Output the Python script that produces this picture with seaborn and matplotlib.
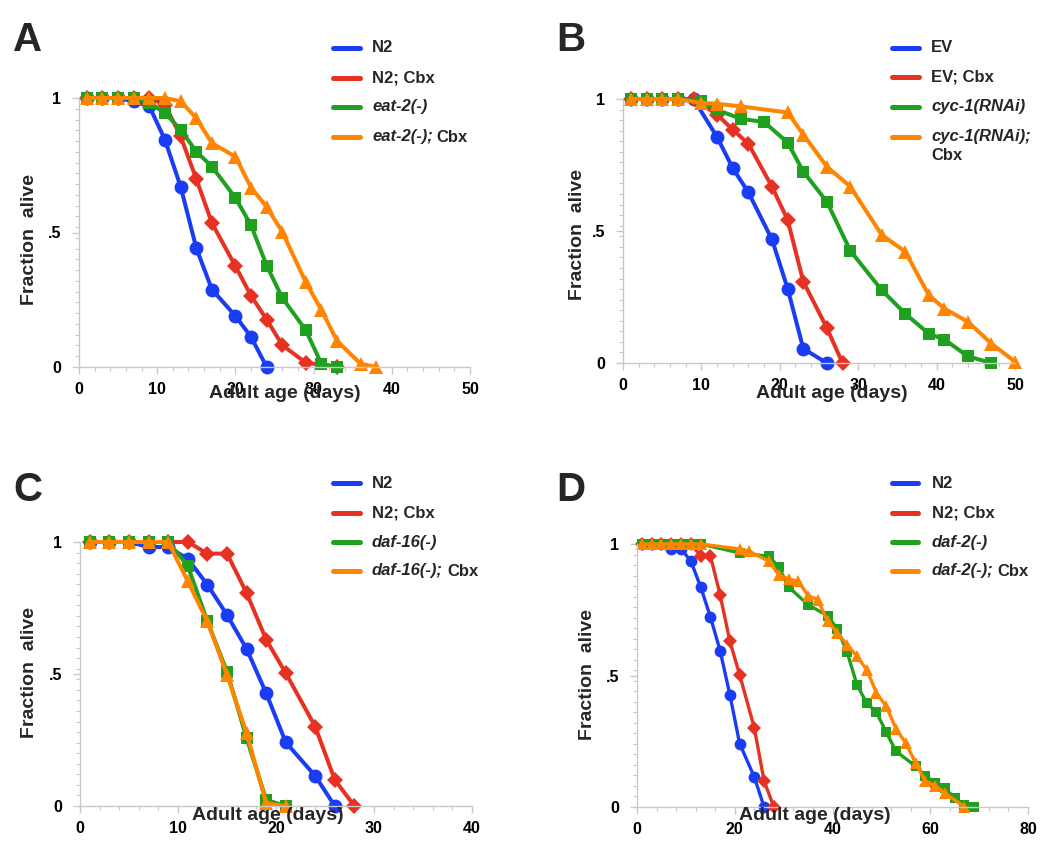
import numpy as np
import pandas as pd
import matplotlib
matplotlib.use("Agg")
import matplotlib.pyplot as plt
from matplotlib.lines import Line2D
from matplotlib.ticker import MultipleLocator, FixedLocator, FixedFormatter
import seaborn as sns

sns.set_style("ticks")
plt.rcParams['font.family'] = ['Liberation Sans', 'DejaVu Sans']
plt.rcParams['font.weight'] = 'bold'

# ---------------- data ----------------
# Panel A
labels_A = ["N2", "N2; Cbx", "eat-2(-)", "eat-2(-); Cbx"]
days_A_n2 = [1, 3, 5, 7, 9, 11, 13, 15, 17, 20, 22, 24]
frac_A_n2 = [1, 1, 1, 0.988, 0.969, 0.844, 0.670, 0.442, 0.288, 0.190, 0.112, 0]
days_A_n2cbx = [1, 3, 5, 7, 9, 11, 13, 15, 17, 20, 22, 24, 26, 29, 33]
frac_A_n2cbx = [1, 1, 1, 1, 1, 0.975, 0.857, 0.699, 0.535, 0.375, 0.265, 0.176, 0.081, 0.016, 0]
days_A_eat = [1, 3, 5, 7, 9, 11, 13, 15, 17, 20, 22, 24, 26, 29, 31, 33]
frac_A_eat = [1, 1, 1, 1, 0.981, 0.944, 0.882, 0.801, 0.745, 0.629, 0.527, 0.377, 0.257, 0.137, 0.012, 0]
days_A_eatcbx = [1, 3, 5, 7, 9, 11, 13, 15, 17, 20, 22, 24, 26, 29, 31, 33, 36, 38]
frac_A_eatcbx = [1, 1, 1, 1, 1, 1, 0.988, 0.925, 0.832, 0.782, 0.667, 0.595, 0.502, 0.315, 0.212, 0.097, 0.012, 0]

# Panel B
labels_B = ["EV", "EV; Cbx", "cyc-1(RNAi)", "cyc-1(RNAi); Cbx"]
days_B_ev = [1, 3, 5, 7, 9, 12, 14, 16, 19, 21, 23, 26]
frac_B_ev = [1, 1, 1, 1, 1, 0.856, 0.738, 0.646, 0.468, 0.282, 0.054, 0]
days_B_evcbx = [1, 3, 5, 7, 9, 12, 14, 16, 19, 21, 23, 26, 28]
frac_B_evcbx = [1, 1, 1, 1, 1, 0.941, 0.884, 0.830, 0.668, 0.542, 0.308, 0.133, 0]
days_B_cyc = [1, 3, 5, 7, 10, 12, 15, 18, 21, 23, 26, 29, 33, 36, 39, 41, 44, 47]
frac_B_cyc = [1, 1, 1, 1, 0.991, 0.959, 0.925, 0.913, 0.835, 0.725, 0.611, 0.425, 0.276, 0.187, 0.111, 0.089, 0.025, 0]
days_B_cyccbx = [1, 3, 5, 7, 10, 12, 15, 21, 23, 26, 29, 33, 36, 39, 41, 44, 47, 50]
frac_B_cyccbx = [1, 1, 1, 1, 0.985, 0.982, 0.972, 0.949, 0.865, 0.744, 0.668, 0.485, 0.422, 0.257, 0.206, 0.156, 0.073, 0.005]

# Panels C and D share N2 controls
days_N2 = [1, 3, 5, 7, 9, 11, 13, 15, 17, 19, 21, 24, 26]
frac_N2 = [1, 1, 1, 0.981, 0.981, 0.936, 0.838, 0.724, 0.595, 0.427, 0.241, 0.114, 0]
days_N2cbx = [1, 3, 5, 7, 9, 11, 13, 15, 17, 19, 21, 24, 26, 28]
frac_N2cbx = [1, 1, 1, 1, 1, 1, 0.956, 0.956, 0.807, 0.630, 0.503, 0.301, 0.099, 0]

# Panel C
labels_C = ["N2", "N2; Cbx", "daf-16(-)", "daf-16(-); Cbx"]
days_C_daf16 = [1, 3, 5, 7, 9, 11, 13, 15, 17, 19, 21]
frac_C_daf16 = [1, 1, 1, 1, 1, 0.910, 0.699, 0.509, 0.257, 0.023, 0]
days_C_daf16cbx = [1, 3, 5, 7, 9, 11, 13, 15, 17, 19, 21]
frac_C_daf16cbx = [1, 1, 1, 1, 1, 0.851, 0.699, 0.497, 0.276, 0.010, 0]

# Panel D
labels_D = ["N2", "N2; Cbx", "daf-2(-)", "daf-2(-); Cbx"]
days_D_daf2 = [1, 3, 5, 7, 9, 11, 13, 21, 27, 29, 31, 35, 39, 41, 43, 45, 47, 49, 51, 53, 57, 59, 61, 63, 65, 67, 69]
frac_D_daf2 = [1, 1, 1, 1, 1, 1, 1, 0.966, 0.953, 0.913, 0.837, 0.769, 0.727, 0.677, 0.588, 0.465, 0.395, 0.360,
               0.284, 0.212, 0.155, 0.119, 0.091, 0.072, 0.034, 0.009, 0]
days_D_daf2cbx = [1, 3, 5, 7, 9, 11, 13, 21, 23, 27, 29, 31, 33, 35, 37, 39, 41, 43, 45, 47, 49, 51, 53, 55, 57,
                  59, 61, 63, 67]
frac_D_daf2cbx = [1, 1, 1, 1, 1, 1, 1, 0.981, 0.972, 0.934, 0.883, 0.867, 0.858, 0.804, 0.788, 0.706, 0.662, 0.617,
                  0.573, 0.522, 0.433, 0.383, 0.297, 0.243, 0.167, 0.098, 0.081, 0.053, 0]

y_ticks = [0, 0.5, 1]
y_ticklabels = ["0", ".5", "1"]
panel_letters = ["A", "B", "C", "D"]
xlabel_text = "Adult age (days)"
ylabel_text = "Fraction  alive"

colors = ["#1a3cf5", "#e63222", "#1fa01f", "#ff8400"]
markers = ["o", "D", "s", "^"]

W, H = 1050, 861
fig = plt.figure(figsize=(W / 100, H / 100), dpi=100)


def fx(px):
    return px / W


def fy(py):
    return 1 - py / H


def make_ax(l, r, t, b):
    return fig.add_axes([fx(l), fy(b), fx(r - l), (b - t) / H])


def style_ax(ax, xmax, xmajor, xminor):
    ax.set_xlim(0, xmax)
    ax.set_ylim(0, 1)
    ax.xaxis.set_major_locator(MultipleLocator(xmajor))
    ax.xaxis.set_minor_locator(MultipleLocator(xminor))
    ax.yaxis.set_major_locator(FixedLocator(y_ticks))
    ax.yaxis.set_major_formatter(FixedFormatter(y_ticklabels))
    ax.yaxis.set_minor_locator(MultipleLocator(0.04))
    for s in ["top", "right"]:
        ax.spines[s].set_visible(False)
    for s in ["left", "bottom"]:
        ax.spines[s].set_color("#c8c8c8")
        ax.spines[s].set_linewidth(1.0)
    ax.tick_params(which="major", direction="out", length=5, width=1, color="#c8c8c8",
                   labelsize=11.5, labelcolor="black")
    ax.tick_params(axis="y", which="major", pad=8)
    ax.tick_params(axis="x", which="major", pad=6)
    ax.tick_params(which="minor", direction="out", length=3, width=0.8, color="#c8c8c8")
    for lab in ax.get_xticklabels() + ax.get_yticklabels():
        lab.set_fontweight("bold")
    ax.set_xlabel("")
    ax.set_ylabel("")


def draw_series(ax, series, labels, msizes, lw):
    for i, (d, f) in enumerate(series):
        df = pd.DataFrame({"day": d, "frac": f, "strain": labels[i]})
        sns.lineplot(data=df, x="day", y="frac", ax=ax, color=colors[i], marker=markers[i],
                     markersize=msizes[i], markeredgewidth=0, linewidth=lw, estimator=None,
                     sort=False, legend=False, clip_on=False)


def draw_legend(x0, x1, xt, ys, entries, extra_line=None):
    renderer = fig.canvas.get_renderer()
    for i, (y, segs) in enumerate(zip(ys, entries)):
        fig.add_artist(Line2D([fx(x0), fx(x1)], [fy(y), fy(y)], color=colors[i], lw=3.6,
                              transform=fig.transFigure))
        xcur = xt
        for j, (txt, it) in enumerate(segs):
            t = fig.text(fx(xcur), fy(y + 4.5), txt, fontsize=12, fontweight="bold",
                         fontstyle="italic" if it else "normal", va="baseline", ha="left")
            bb = t.get_window_extent(renderer)
            xcur += bb.width + 4
    if extra_line is not None:
        y, txt = extra_line
        fig.text(fx(xt), fy(y), txt, fontsize=12, fontweight="bold", va="baseline", ha="left")


def split_label(lab):
    # italic gene name followed by plain "Cbx"
    if lab in ("N2", "N2; Cbx", "EV", "EV; Cbx"):
        return [(lab, False)]
    if lab.endswith("; Cbx"):
        return [(lab[:-4], True), ("Cbx", False)]
    return [(lab, True)]


# ---------------- Panel A ----------------
axA = make_ax(79, 470, 98, 367)
draw_series(axA, [(days_A_n2, frac_A_n2), (days_A_n2cbx, frac_A_n2cbx), (days_A_eat, frac_A_eat),
                  (days_A_eatcbx, frac_A_eatcbx)], labels_A, [10, 8, 8.5, 10], 2.9)
style_ax(axA, 50, 10, 2)

# ---------------- Panel B ----------------
axB = make_ax(623, 1015, 99, 363)
draw_series(axB, [(days_B_ev, frac_B_ev), (days_B_evcbx, frac_B_evcbx), (days_B_cyc, frac_B_cyc),
                  (days_B_cyccbx, frac_B_cyccbx)], labels_B, [10, 8, 8.5, 10], 2.9)
style_ax(axB, 50, 10, 2)

# ---------------- Panel C ----------------
axC = make_ax(80, 472, 542, 806)
draw_series(axC, [(days_N2, frac_N2), (days_N2cbx, frac_N2cbx), (days_C_daf16, frac_C_daf16),
                  (days_C_daf16cbx, frac_C_daf16cbx)], labels_C, [10, 8, 8.5, 10], 2.9)
style_ax(axC, 40, 10, 2)

# ---------------- Panel D ----------------
axD = make_ax(637, 1028, 544, 807)
draw_series(axD, [(days_N2, frac_N2), (days_N2cbx, frac_N2cbx), (days_D_daf2, frac_D_daf2),
                  (days_D_daf2cbx, frac_D_daf2cbx)], labels_D, [8.5, 7, 7.5, 8.5], 2.4)
style_ax(axD, 80, 20, 4)

# axis labels (overlapping the tick labels as in the original figure)
for (cx, cy) in [(285, 394), (832, 394), (268, 815), (815, 815)]:
    fig.text(fx(cx), fy(cy), xlabel_text, fontsize=14, fontweight="bold", ha="center", va="center")
for (cx, cy) in [(29, 240), (578, 235), (29, 672), (587, 675)]:
    fig.text(fx(cx), fy(cy), ylabel_text, fontsize=14, fontweight="bold", ha="center", va="center",
             rotation=90)

# panel letters
for letter, (lx, ly) in zip(panel_letters, [(28, 40), (571, 40), (28, 490), (571, 490)]):
    fig.text(fx(lx), fy(ly), letter, fontsize=29, fontweight="bold", ha="center", va="center")

# legends
draw_legend(333, 360, 372, [48, 78, 107, 137], [split_label(l) for l in labels_A])
entries_B = [split_label(l) for l in labels_B]
entries_B[3] = [("cyc-1(RNAi);", True)]
draw_legend(892, 919, 931, [48, 77, 107, 137], entries_B, extra_line=(160, "Cbx"))
draw_legend(333, 360, 372, [483, 513, 542, 571], [split_label(l) for l in labels_C])
draw_legend(892, 918, 932, [483, 513, 542, 571], [split_label(l) for l in labels_D])

fig.savefig("out.png", dpi=100)
